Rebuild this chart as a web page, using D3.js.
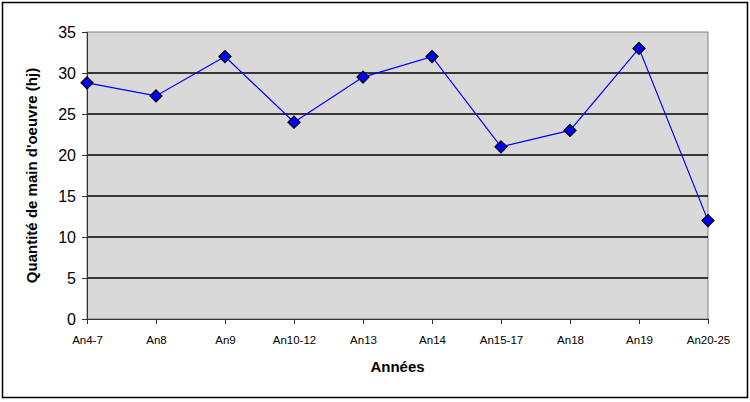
<!DOCTYPE html>
<html>
<head>
<meta charset="utf-8">
<script src="https://cdn.jsdelivr.net/npm/d3@7"></script>
<style>
  body { margin: 0; background: white; }
  svg { display: block; font-family: Arial, "Liberation Sans", sans-serif; }
</style>
</head>
<body>
<script>
var years = ["An4-7", "An8", "An9", "An10-12", "An13", "An14", "An15-17", "An18", "An19", "An20-25"];
var labour = [28.8, 27.2, 32, 24, 29.5, 32, 21, 23, 33, 12];
var yTicks = [0, 5, 10, 15, 20, 25, 30, 35];

var width = 750,
    height = 402;

var svg = d3.select("body").append("svg")
  .attr("width", width)
  .attr("height", height);

// outer frame
svg.append("rect")
  .attr("x", 2.5).attr("y", 2.5)
  .attr("width", 745).attr("height", 395)
  .style("fill", "white")
  .style("stroke", "black")
  .style("stroke-width", 1.5);

var plotLeft = 87, plotRight = 708, plotTop = 32, plotBottom = 319;

var x = d3.scalePoint()
  .domain(years)
  .range([plotLeft, plotRight]);

var y = d3.scaleLinear()
  .domain([0, 35])
  .range([plotBottom, plotTop]);

// plot area
svg.append("rect")
  .attr("x", plotLeft).attr("y", plotTop)
  .attr("width", plotRight - plotLeft).attr("height", plotBottom - plotTop)
  .style("fill", "#d9d9d9")
  .style("stroke", "#808080")
  .style("stroke-width", 1);

// grid lines
svg.append("g")
  .selectAll("line")
  .data(yTicks.filter(function(d) { return d > 0 && d < 35; }))
  .enter().append("line")
  .attr("x1", plotLeft).attr("x2", plotRight)
  .attr("y1", function(d) { return y(d); })
  .attr("y2", function(d) { return y(d); })
  .style("stroke", "black")
  .style("stroke-width", 1.5);

// y axis
var yAxis = svg.append("g")
  .attr("transform", "translate(" + plotLeft + ",0)")
  .call(d3.axisLeft(y).tickValues(yTicks).tickSize(5).tickPadding(6));
yAxis.select(".domain").style("stroke", "#333");
yAxis.selectAll(".tick line").style("stroke", "#333");
yAxis.selectAll("text")
  .style("font-size", "16px")
  .style("fill", "black");

// x axis
var xAxis = svg.append("g")
  .attr("transform", "translate(0," + plotBottom + ")")
  .call(d3.axisBottom(x).tickSize(5).tickPadding(12));
xAxis.select(".domain").style("stroke", "#333");
xAxis.selectAll(".tick line").style("stroke", "#333");
xAxis.selectAll("text")
  .style("font-size", "11.5px")
  .style("fill", "black");

// line
svg.append("path")
  .datum(labour)
  .attr("d", d3.line()
    .x(function(d, i) { return x(years[i]); })
    .y(function(d) { return y(d); }))
  .style("fill", "none")
  .style("stroke", "#0000ff")
  .style("stroke-width", 1.2);

// diamond markers
svg.append("g")
  .selectAll("path")
  .data(labour)
  .enter().append("path")
  .attr("transform", function(d, i) { return "translate(" + x(years[i]) + "," + y(d) + ")"; })
  .attr("d", "M0,-6L6,0L0,6L-6,0Z")
  .style("fill", "#0000ff")
  .style("stroke", "black")
  .style("stroke-width", 1.2);

// axis titles
svg.append("text")
  .attr("x", (plotLeft + plotRight) / 2)
  .attr("y", 372)
  .attr("text-anchor", "middle")
  .style("font-size", "15px")
  .style("font-weight", "bold")
  .text("Années");

svg.append("text")
  .attr("transform", "translate(37," + ((plotTop + plotBottom) / 2) + ") rotate(-90)")
  .attr("text-anchor", "middle")
  .style("font-size", "15px")
  .style("font-weight", "bold")
  .text("Quantité de main d'oeuvre (hj)");
</script>
</body>
</html>
